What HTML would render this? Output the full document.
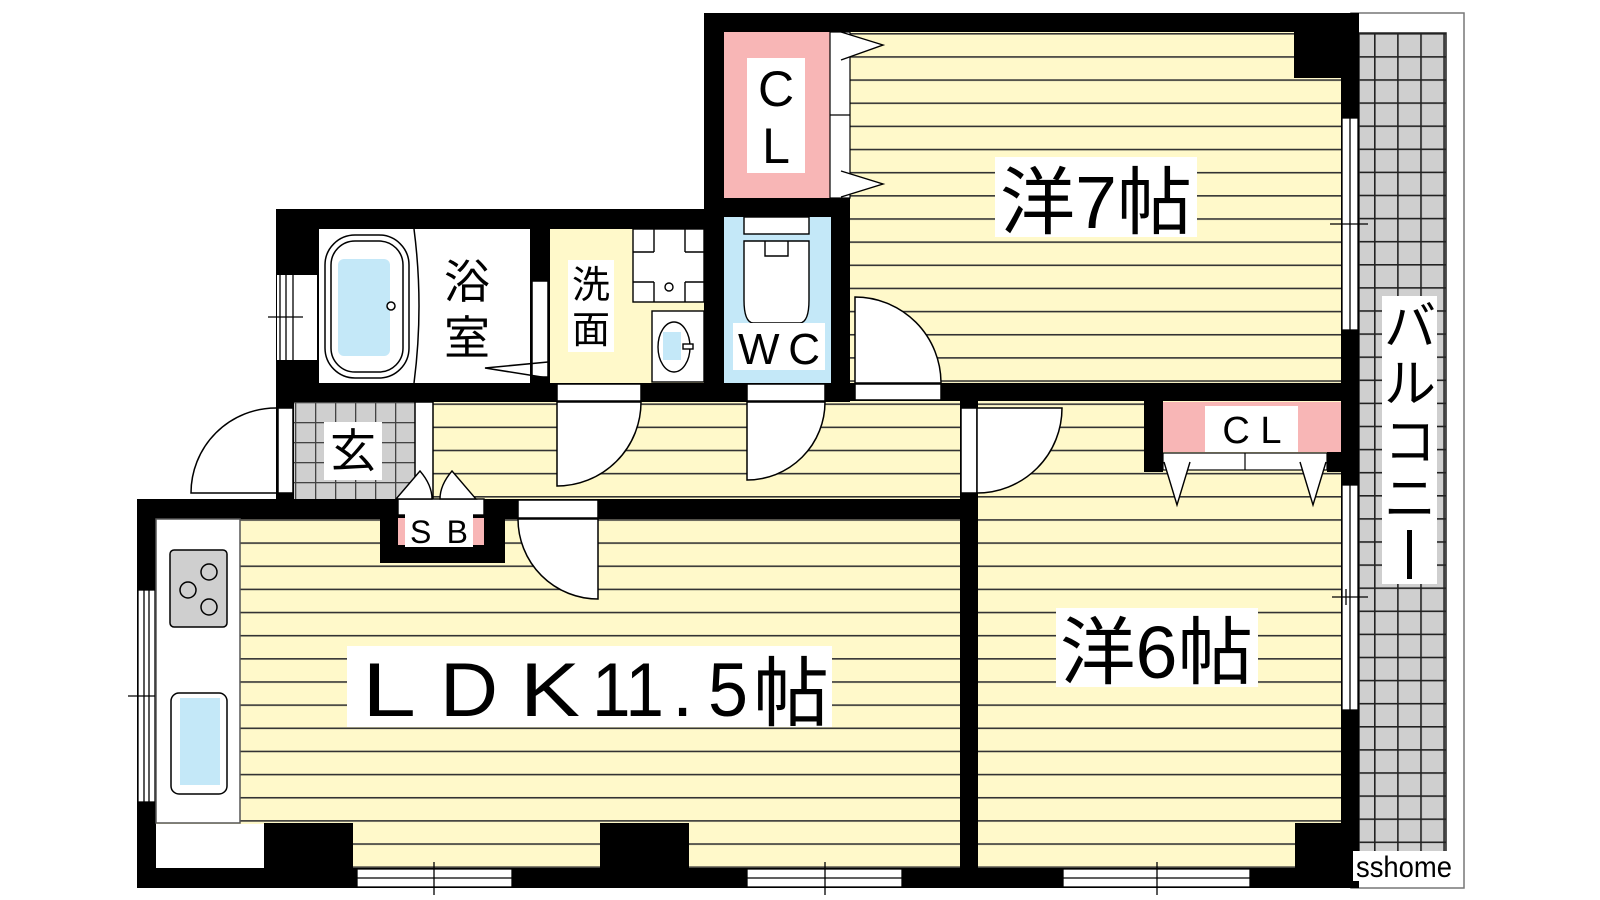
<!DOCTYPE html>
<html><head><meta charset="utf-8"><style>
html,body{margin:0;padding:0;background:#fff;}
svg{display:block;}
text{font-family:"Liberation Sans","Noto Sans CJK JP",sans-serif;fill:#000;}
</style></head><body>
<svg width="1600" height="900" viewBox="0 0 1600 900" xmlns="http://www.w3.org/2000/svg">
<defs>
<pattern id="st" width="20" height="23.15" patternUnits="userSpaceOnUse" y="33">
<rect width="20" height="23.15" fill="#FFF9CA"/><rect y="0" width="20" height="1.6" fill="#333"/>
</pattern>
<pattern id="gr" width="23.1" height="23.1" patternUnits="userSpaceOnUse" x="1374" y="33">
<rect width="23.1" height="23.1" fill="#CFCFCF"/><rect width="1.6" height="23.1" fill="#222"/><rect width="23.1" height="1.6" fill="#222"/>
</pattern>
<pattern id="gr2" width="20" height="20" patternUnits="userSpaceOnUse" x="295" y="402">
<rect width="20" height="20" fill="#CFCFCF"/><rect width="1.3" height="20" fill="#444"/><rect width="20" height="1.3" fill="#444"/>
</pattern>
</defs>

<rect x="1351" y="13" width="113" height="875" fill="#fff" stroke="#777" stroke-width="1.5"/>
<rect x="1359" y="33" width="87" height="835" fill="url(#gr)" stroke="#222" stroke-width="1.5"/>

<rect x="850" y="32" width="491" height="351" fill="url(#st)"/>
<rect x="433" y="400" width="527" height="99" fill="url(#st)"/>
<rect x="978" y="400" width="363" height="468" fill="url(#st)"/>
<rect x="156" y="519" width="804" height="349" fill="url(#st)"/>
<rect x="550" y="229" width="154" height="154" fill="#FFF9CA"/>
<rect x="724" y="217" width="107" height="166" fill="#C4E8F8"/>
<rect x="724" y="32" width="106" height="166" fill="#F8B6B6"/>
<rect x="1163" y="402" width="178" height="50" fill="#F8B6B6"/>
<rect x="294" y="402" width="121" height="97" fill="url(#gr2)"/>
<rect x="319" y="229" width="211" height="154" fill="#fff"/>

<g fill="#000">
<rect x="704" y="13" width="655" height="19"/>
<rect x="704" y="13" width="20" height="216"/>
<rect x="724" y="198" width="126" height="19"/>
<rect x="831" y="198" width="19" height="204"/>
<rect x="1294" y="32" width="47" height="46"/>
<rect x="1341" y="13" width="18" height="875"/>
<rect x="850" y="383" width="509" height="18"/>
<rect x="1144" y="400" width="19" height="72"/>
<rect x="1327" y="452" width="14" height="20"/>
<rect x="276" y="209" width="448" height="20"/>
<rect x="276" y="209" width="43" height="193"/>
<rect x="276" y="383" width="574" height="19"/>
<rect x="530" y="229" width="20" height="154"/>
<rect x="704" y="209" width="20" height="193"/>
<rect x="276" y="402" width="18" height="97"/>
<rect x="137" y="499" width="823" height="20"/>
<rect x="380" y="499" width="125" height="64"/>
<rect x="137" y="499" width="19" height="389"/>
<rect x="137" y="868" width="1222" height="20"/>
<rect x="264" y="823" width="89" height="45"/>
<rect x="600" y="823" width="89" height="45"/>
<rect x="1295" y="823" width="46" height="45"/>
<rect x="960" y="400" width="18" height="468"/>
</g>

<g fill="#fff" stroke="#000" stroke-width="1.3">
<rect x="1342" y="118" width="16" height="212"/><line x1="1350" y1="118" x2="1350" y2="330"/><line x1="1330" y1="224" x2="1368" y2="224"/>
<rect x="1342" y="485" width="16" height="225"/><line x1="1350" y1="485" x2="1350" y2="710"/><line x1="1332" y1="597" x2="1368" y2="597"/><line x1="1346" y1="589" x2="1346" y2="605"/>
<rect x="138" y="590" width="17" height="212"/><line x1="144" y1="590" x2="144" y2="802"/><line x1="149" y1="590" x2="149" y2="802"/><line x1="128" y1="696" x2="159" y2="696"/>
<rect x="357" y="869" width="155" height="18"/><line x1="357" y1="878" x2="512" y2="878"/><line x1="434" y1="862" x2="434" y2="895"/>
<rect x="747" y="869" width="155" height="18"/><line x1="747" y1="878" x2="902" y2="878"/><line x1="825" y1="862" x2="825" y2="895"/>
<rect x="1063" y="869" width="187" height="18"/><line x1="1063" y1="878" x2="1250" y2="878"/><line x1="1157" y1="862" x2="1157" y2="895"/>
<rect x="277" y="275" width="40" height="85" stroke="none"/><line x1="280" y1="275" x2="280" y2="360"/><line x1="286" y1="275" x2="286" y2="360"/><line x1="293" y1="275" x2="293" y2="360"/><line x1="268" y1="317" x2="303" y2="317"/>
</g>

<g fill="none" stroke="#000" stroke-width="1.5">
<rect x="325" y="235" width="84" height="143" rx="30" fill="#fff"/>
<rect x="331" y="241" width="72" height="131" rx="24"/>
<rect x="338" y="259" width="52" height="97" rx="6" fill="#C4E8F8" stroke="none"/>
<circle cx="391" cy="306" r="4" fill="#fff"/>
<path d="M414 229 Q424 306 414 383"/>
<rect x="532" y="281" width="16" height="96" fill="#fff"/>
<polyline points="548,362 485,368 548,378"/>
</g>
<text x="467" y="298" font-size="46" text-anchor="middle">浴</text>
<text x="467" y="354" font-size="46" text-anchor="middle">室</text>

<g stroke="#000" stroke-width="1.4">
<rect x="633" y="229" width="71" height="73" fill="#fff"/>
<line x1="654" y1="229" x2="654" y2="252"/><line x1="685" y1="229" x2="685" y2="252"/>
<line x1="654" y1="282" x2="654" y2="302"/><line x1="685" y1="282" x2="685" y2="302"/>
<line x1="633" y1="252" x2="654" y2="252"/><line x1="685" y1="252" x2="704" y2="252"/>
<line x1="633" y1="282" x2="654" y2="282"/><line x1="685" y1="282" x2="704" y2="282"/>
<circle cx="669" cy="287" r="4" fill="#fff"/>
<rect x="652" y="311" width="52" height="71" fill="#fff"/>
<ellipse cx="674" cy="347" rx="16" ry="25" fill="#fff"/>
<rect x="663" y="332" width="18" height="28" fill="#C4E8F8" stroke="none"/>
<rect x="683" y="344" width="10" height="5" fill="#fff"/>
</g>
<rect x="568" y="260" width="46" height="92" fill="#fff"/>
<text x="591" y="298" font-size="38" text-anchor="middle">洗</text>
<text x="591" y="343" font-size="38" text-anchor="middle">面</text>

<g fill="#fff" stroke="#000" stroke-width="1.4">
<rect x="744" y="217" width="65" height="17"/>
<path d="M744 241 H809 V300 Q809 322 800 323 H753 Q744 322 744 300 Z"/>
<path d="M765 241 V256 H788 V241" fill="none"/>
</g>
<rect x="733" y="323" width="92" height="47" fill="#fff"/>
<text x="738" y="364" font-size="44" textLength="82" lengthAdjust="spacing">WC</text>

<rect x="830" y="32" width="20" height="166" fill="#fff" stroke="#000" stroke-width="1.2"/>
<line x1="830" y1="115" x2="850" y2="115" stroke="#000" stroke-width="1.2"/>
<polyline points="841,32 883,45 841,60" fill="#fff" stroke="#000" stroke-width="1.4"/>
<polyline points="841,171 883,184 841,197" fill="#fff" stroke="#000" stroke-width="1.4"/>
<rect x="747" y="58" width="58" height="115" fill="#fff"/>
<text x="776" y="106" font-size="50" text-anchor="middle">C</text>
<text x="776" y="163" font-size="50" text-anchor="middle">L</text>

<g fill="#fff" stroke="#000" stroke-width="1.5">
<rect x="557" y="384" width="84" height="17"/>
<path d="M557 402 V486 A84 84 0 0 0 641 402 Z"/>
<rect x="747" y="384" width="78" height="17"/>
<path d="M747 402 V480 A78 78 0 0 0 825 402 Z"/>
<rect x="855" y="384" width="86" height="16"/>
<path d="M855 383 V297 A86 86 0 0 1 941 383 Z"/>
<rect x="961" y="408" width="16" height="85"/>
<path d="M977 408 H1062 A85 85 0 0 1 977 493 Z"/>
<rect x="278" y="408" width="15" height="85"/>
<path d="M276 493 H191 A85 85 0 0 1 276 408"/>
<rect x="518" y="500" width="80" height="18"/>
<path d="M598 519 H518 A80 80 0 0 0 598 599 Z"/>
<rect x="415" y="402" width="18" height="97"/>
</g>

<rect x="324" y="422" width="58" height="58" fill="#fff"/>
<text x="353" y="467" font-size="46" text-anchor="middle">玄</text>

<g fill="#fff" stroke="#000" stroke-width="1.4">
<rect x="398" y="499" width="86" height="16"/>
<path d="M396 499 L420 471 Q432 485 432 499 Z"/>
<path d="M440 499 Q440 485 452 471 L476 499 Z"/>
</g>
<rect x="398" y="518" width="86" height="27" fill="#F8B6B6"/>
<rect x="405" y="514" width="68" height="33" fill="#fff"/>
<text x="410" y="543" font-size="32" textLength="58" lengthAdjust="spacing">SB</text>

<rect x="1163" y="453" width="164" height="17" fill="#fff" stroke="#000" stroke-width="1.2"/>
<line x1="1245" y1="453" x2="1245" y2="470" stroke="#000" stroke-width="1.2"/>
<polyline points="1164,462 1177,505 1190,462" fill="#fff" stroke="#000" stroke-width="1.4"/>
<polyline points="1300,462 1313,505 1326,462" fill="#fff" stroke="#000" stroke-width="1.4"/>
<rect x="1205" y="406" width="93" height="46" fill="#fff"/>
<text x="1252" y="443" font-size="38" text-anchor="middle">C L</text>

<rect x="156" y="519" width="84" height="304" fill="#fff" stroke="#555" stroke-width="1.5"/>
<rect x="156" y="824" width="108" height="44" fill="#fff"/>
<rect x="170" y="550" width="57" height="77" rx="4" fill="#CFCFCF" stroke="#000" stroke-width="1.5"/>
<g fill="none" stroke="#000" stroke-width="1.5">
<circle cx="209" cy="572" r="8"/><circle cx="188" cy="590" r="8"/><circle cx="209" cy="607" r="8"/>
</g>
<rect x="171" y="693" width="56" height="101" rx="8" fill="#fff" stroke="#000" stroke-width="1.5"/>
<rect x="180" y="698" width="40" height="87" fill="#C4E8F8"/>

<rect x="347" y="646" width="485" height="81" fill="#fff"/>
<g font-size="76">
<text x="362" y="716" textLength="54" lengthAdjust="spacingAndGlyphs">L</text>
<text x="440" y="716" textLength="58" lengthAdjust="spacingAndGlyphs">D</text>
<text x="520" y="716" textLength="60" lengthAdjust="spacingAndGlyphs">K</text>
<text x="592" y="716" textLength="72" lengthAdjust="spacingAndGlyphs">11</text>
<text x="672" y="716">.</text>
<text x="708" y="716" textLength="40" lengthAdjust="spacingAndGlyphs">5</text>
<text x="753" y="720" textLength="76" lengthAdjust="spacingAndGlyphs">帖</text>
</g>
<rect x="995" y="157" width="202" height="80" fill="#fff"/>
<text x="1000" y="228" font-size="74" textLength="192" lengthAdjust="spacingAndGlyphs">洋7帖</text>
<rect x="1056" y="608" width="202" height="79" fill="#fff"/>
<text x="1060" y="678" font-size="74" textLength="193" lengthAdjust="spacingAndGlyphs">洋6帖</text>

<rect x="1382" y="296" width="55" height="288" fill="#fff"/>
<text x="1410" y="345" font-size="52" text-anchor="middle">バ</text>
<text x="1410" y="402" font-size="52" text-anchor="middle">ル</text>
<text x="1410" y="460" font-size="52" text-anchor="middle">コ</text>
<text x="1410" y="517" font-size="52" text-anchor="middle">ニ</text>
<rect x="1407" y="530" width="5" height="49" fill="#000"/>

<rect x="1353" y="851" width="103" height="30" fill="#fff"/>
<text x="1356" y="877" font-size="30" textLength="96" lengthAdjust="spacingAndGlyphs">sshome</text>
</svg>
</body></html>
